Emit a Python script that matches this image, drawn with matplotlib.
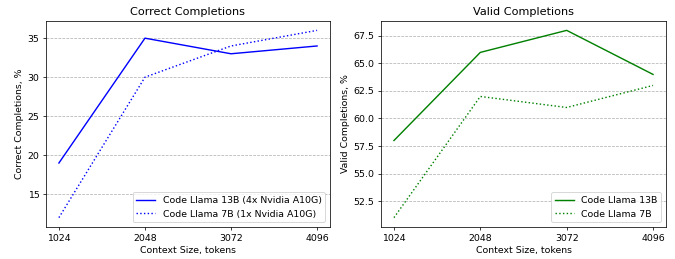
import matplotlib
matplotlib.use("Agg")
import matplotlib.pyplot as plt

ctx = [1024, 2048, 3072, 4096]
correct_13b = [19, 35, 33, 34]
correct_7b = [12, 30, 34, 36]
valid_13b = [58, 66, 68, 64]
valid_7b = [51, 62, 61, 63]

# drawn at 10in wide and saved at 67.5 dpi -> 675x259 px
DPI = 67.5
fig, (ax1, ax2) = plt.subplots(1, 2, figsize=(675 / DPI, 259 / DPI))
ax1.set_position([46 / 675, 1 - 227 / 259, 284 / 675, 206 / 259])
ax2.set_position([381 / 675, 1 - 227 / 259, 285 / 675, 206 / 259])

ax1.plot(ctx, correct_13b, color="blue", label="Code Llama 13B (4x Nvidia A10G)")
ax1.plot(ctx, correct_7b, color="blue", linestyle=":", label="Code Llama 7B (1x Nvidia A10G)")
ax1.set_title("Correct Completions")
ax1.set_ylabel("Correct Completions, %")

ax2.plot(ctx, valid_13b, color="green", label="Code Llama 13B")
ax2.plot(ctx, valid_7b, color="green", linestyle=":", label="Code Llama 7B")
ax2.set_title("Valid Completions")
ax2.set_ylabel("Valid Completions, %")

for ax in (ax1, ax2):
    ax.set_xticks(ctx)
    ax.set_xlabel("Context Size, tokens")
    ax.grid(axis="y", linestyle="--", color="gray", alpha=0.6)
    ax.legend(loc="lower right")

fig.savefig("out.png", dpi=DPI)
